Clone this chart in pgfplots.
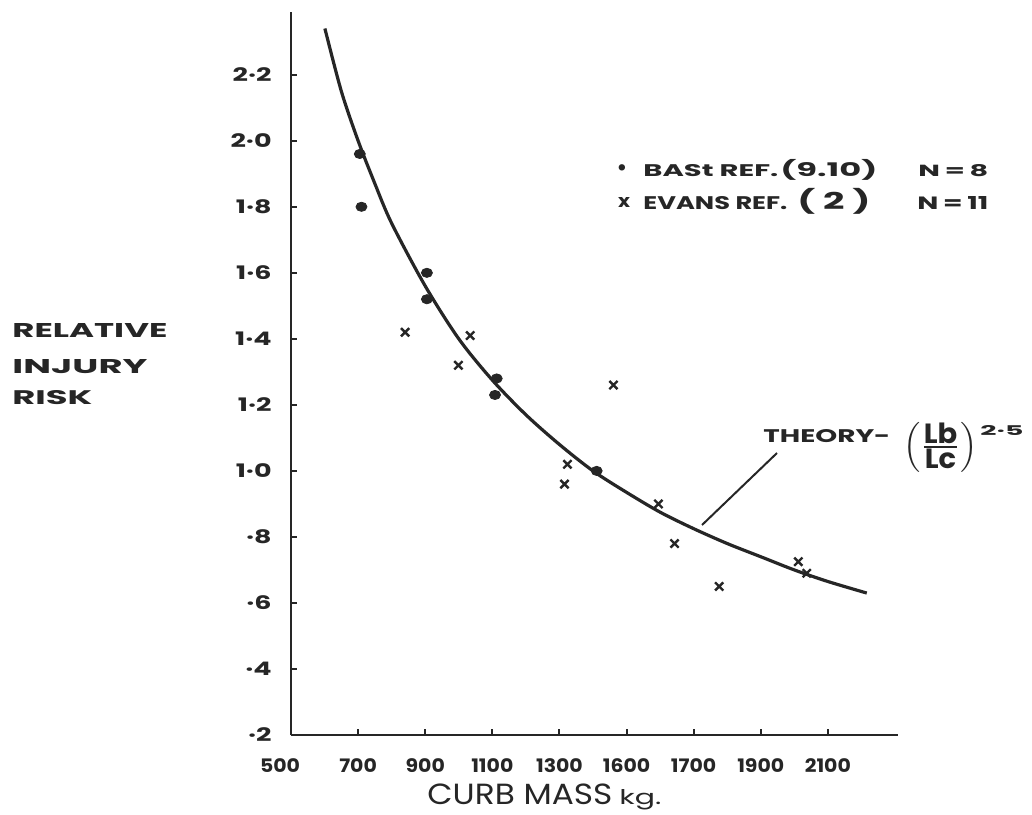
\documentclass[border=0pt]{standalone}
\usepackage{fontspec}
\usepackage{graphicx}
\usepackage{pgfplots}
\pgfplotsset{compat=1.18}
\setmainfont{Poppins}
\newfontfamily\hand{Poppins}
\definecolor{ink}{HTML}{262626}
\newcommand\yl[1]{\scalebox{1.45}[1]{#1}}
\newcommand\xl[1]{\scalebox{1.1}[1]{#1}}
\begin{document}
\begin{tikzpicture}
\begin{scope}[x=0.5pt,y=-0.5pt]
\path[use as bounding box] (0,0) rectangle (1032,814);
\end{scope}
\begin{axis}[
  at={(145.5pt,-367.5pt)}, anchor=south west,
  scale only axis, width=303.5pt, height=361.5pt,
  xmin=500, xmax=2309, ymin=0.2, ymax=2.39,
  axis x line=bottom, axis y line=left,
  axis line style={-, line width=1.2pt, ink},
  tick align=inside, major tick length=3pt,
  tick style={line width=1pt, ink},
  tick label style={font=\hand\bfseries\fontsize{9.3}{9.3}\selectfont, text=ink},
  xtick={700,900,1100,1300,1500,1700,1900,2100},
  xticklabels={\xl{700},\xl{900},\xl{1100},\xl{1300},\xl{1600},\xl{1700},\xl{1900},\xl{2100}},
  extra x ticks={500}, extra x tick labels={\xl{500}},
  extra x tick style={xticklabel style={xshift=-5.5pt}},
  xticklabel style={anchor=north, inner sep=0pt, yshift=-11.5pt},
  ytick={0.2,0.4,0.6,0.8,1.0,1.2,1.4,1.6,1.8,2.0,2.2},
  yticklabels={\yl{·2},\yl{·4},\yl{·6},\yl{·8},\yl{1·0},\yl{1·2},\yl{1·4},\yl{1·6},\yl{1·8},\yl{2·0},\yl{2·2}},
  yticklabel style={anchor=east, inner sep=0pt, xshift=-9.5pt},
  clip=false,
]
% theory curve
\addplot[ink, line width=1.6pt, smooth] coordinates {
(601,2.34) (650,2.15) (700,2.00) (750,1.87) (800,1.75) (900,1.56) (1000,1.40)
(1100,1.275) (1200,1.17) (1300,1.08) (1400,1.00) (1500,0.935) (1600,0.875)
(1700,0.825) (1800,0.78) (1900,0.74) (2000,0.70) (2100,0.665) (2216,0.63)};
% BASt
\addplot[only marks, mark=*, mark size=2.3pt, ink, mark options={xscale=1.2}] coordinates {
(705,1.96) (710,1.80) (905,1.60) (905,1.52) (1113,1.28) (1108,1.23) (1411,1.00)};
% Evans
\addplot[only marks, mark=x, mark size=2.9pt, ink, mark options={line width=1.2pt}] coordinates {
(840,1.42) (1034,1.41) (999,1.32) (1461,1.26) (1324,1.02) (1315,0.96)
(1595,0.90) (1643,0.78) (1776,0.65) (2012,0.725) (2037,0.69)};
\end{axis}
\begin{scope}[x=0.5pt,y=-0.5pt, every node/.style={inner sep=0pt, text=ink}]
% y label
\node[anchor=base west] at (12,337) {\resizebox{77.5pt}{7pt}{\bfseries RELATIVE}};
\node[anchor=base west] at (12,373) {\resizebox{67.5pt}{7pt}{\bfseries INJURY}};
\node[anchor=base west] at (12,404) {\resizebox{40pt}{7pt}{\bfseries RISK}};
% x label
\node[anchor=base west] at (427,804) {\resizebox{92.5pt}{10.3pt}{CURB MASS}};
\node[anchor=base west] at (619,804) {\resizebox{21pt}{7.5pt}{kg.}};
% legend
\node[anchor=center] at (622,171) {\fontsize{13}{13}\selectfont •};
\node[anchor=base west] at (643,176) {\resizebox{67.5pt}{6pt}{\bfseries BASt REF.}};
\node[anchor=base west] at (780,176) {\resizebox*{48.5pt}{10.5pt}{\bfseries (9.10)}};
\node[anchor=base west] at (918,176) {\resizebox{35pt}{6pt}{\bfseries N\,=\,8}};
\node[anchor=center] at (624,202) {\resizebox{6pt}{5pt}{\bfseries x}};
\node[anchor=base west] at (643,209) {\resizebox{72pt}{6.5pt}{\bfseries EVANS REF.}};
\node[anchor=base west] at (797,209) {\resizebox*{36.5pt}{13pt}{\bfseries ( 2 )}};
\node[anchor=base west] at (917,209) {\resizebox{35.5pt}{6.5pt}{\bfseries N\,=\,11}};
% theory annotation
\node[anchor=base west] at (763,442) {\resizebox{63.5pt}{6.5pt}{\bfseries THEORY-}};
\node[anchor=center] at (940.5,447) {\resizebox*{37.5pt}{25pt}{$\left(\frac{\mbox{\bfseries Lb}}{\mbox{\bfseries Lc}}\right)$}};
\node[anchor=base west] at (980,435) {\resizebox{21.5pt}{5pt}{\bfseries 2·5}};
\draw[ink, line width=1pt] (777,453) -- (702,525);
\end{scope}
\end{tikzpicture}
\end{document}
